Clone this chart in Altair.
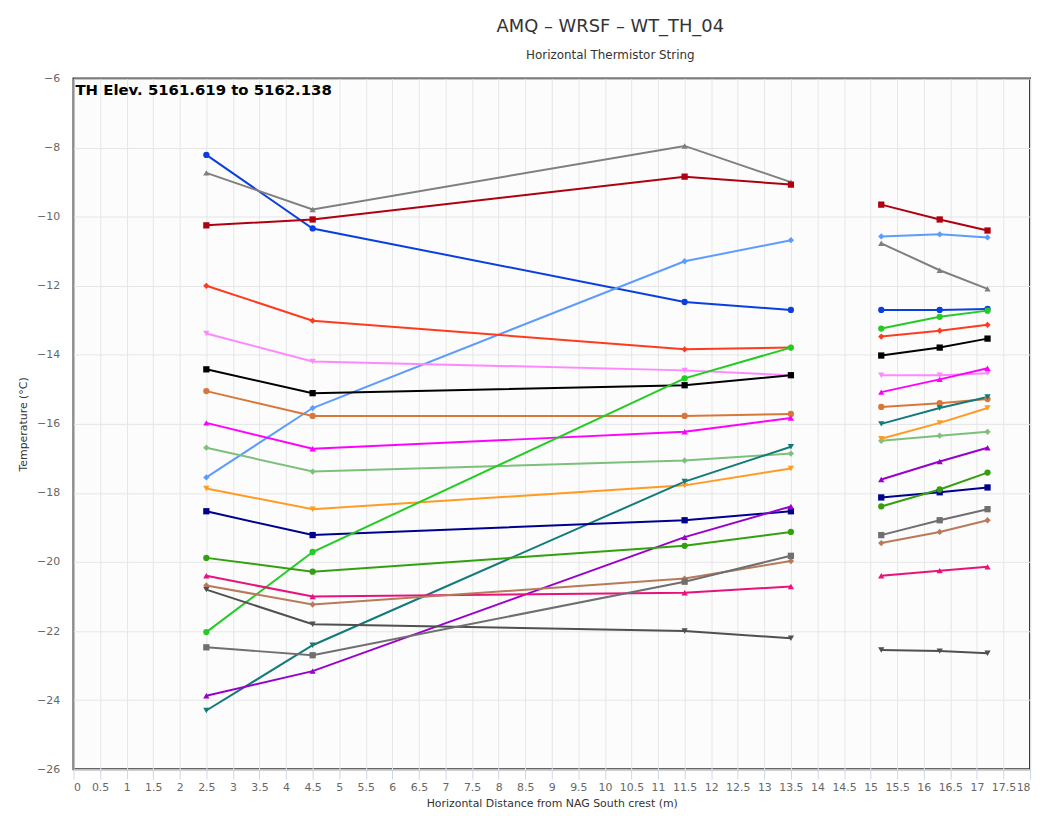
import altair as alt
import pandas as pd

# ---- data ----
x_positions = [2.5, 4.5, 11.5, 13.5, 15.2, 16.3, 17.2]
segments = ["A", "A", "A", "A", "B", "B", "B"]

series_names = [f"TH{i:02d}" for i in range(1, 21)]
series_colors = ["#0a3ee0", "#7f7f7f", "#b0000f", "#5c9cff", "#ff3b1f",
                 "#ff88ff", "#000000", "#d9773a", "#ff00ff", "#7cc07c",
                 "#ff9a22", "#127a7a", "#00008f", "#22cc22", "#9a00cc",
                 "#33a010", "#e8127a", "#b87a5a", "#505050", "#6f6f6f"]
series_shapes = ["circle", "triangle-up", "square", "diamond", "diamond",
                 "triangle-down", "square", "circle", "triangle-up", "diamond",
                 "triangle-down", "triangle-down", "square", "circle", "triangle-up",
                 "circle", "triangle-up", "diamond", "triangle-down", "square"]

th01 = [-8.21, -10.34, -12.47, -12.70, -12.70, -12.70, -12.67]
th02 = [-8.73, -9.79, -7.95, -9.00, -10.77, -11.55, -12.09]
th03 = [-10.25, -10.08, -8.84, -9.07, -9.65, -10.08, -10.40]
th04 = [-17.55, -15.54, -11.29, -10.68, -10.57, -10.51, -10.60]
th05 = [-12.00, -13.01, -13.84, -13.79, -13.47, -13.30, -13.13]
th06 = [-13.38, -14.19, -14.45, -14.59, -14.59, -14.59, -14.53]
th07 = [-14.42, -15.11, -14.88, -14.59, -14.02, -13.79, -13.53]
th08 = [-15.05, -15.77, -15.77, -15.71, -15.51, -15.40, -15.28]
th09 = [-15.97, -16.72, -16.23, -15.83, -15.08, -14.71, -14.39]
th10 = [-16.69, -17.38, -17.06, -16.86, -16.49, -16.34, -16.23]
th11 = [-17.87, -18.47, -17.78, -17.29, -16.43, -15.97, -15.54]
th12 = [-24.30, -22.41, -17.67, -16.66, -16.00, -15.54, -15.22]
th13 = [-18.53, -19.22, -18.79, -18.53, -18.13, -17.98, -17.84]
th14 = [-22.03, -19.71, -14.68, -13.79, -13.24, -12.90, -12.72]
th15 = [-23.87, -23.16, -19.28, -18.39, -17.61, -17.09, -16.69]
th16 = [-19.88, -20.28, -19.53, -19.13, -18.39, -17.90, -17.41]
th17 = [-20.40, -21.00, -20.89, -20.71, -20.40, -20.25, -20.14]
th18 = [-20.68, -21.23, -20.48, -19.97, -19.45, -19.13, -18.79]
th19 = [-20.80, -21.80, -22.00, -22.21, -22.55, -22.58, -22.64]
th20 = [-22.47, -22.70, -20.57, -19.82, -19.22, -18.79, -18.47]

all_values = [th01, th02, th03, th04, th05, th06, th07, th08, th09, th10,
              th11, th12, th13, th14, th15, th16, th17, th18, th19, th20]

x_ticks = [i * 0.5 for i in range(37)]
y_ticks = list(range(-26, -5, 2))

rows = []
for name, vals in zip(series_names, all_values):
    for xv, seg, yv in zip(x_positions, segments, vals):
        rows.append({"series": name, "x": xv, "seg": seg, "temp": yv})
df = pd.DataFrame(rows)

FONT = "DejaVu Sans"

x_enc = alt.X("x:Q", scale=alt.Scale(domain=[0, 18], nice=False, zero=False),
              axis=alt.Axis(values=x_ticks, format="~g",
                            title="Horizontal Distance from NAG South crest (m)",
                            labelColor="#666666", labelFontSize=11, labelFont=FONT,
                            labelOverlap=False, labelBound=False, labelFlush=True,
                            titleFontSize=11, titleFont=FONT, titleColor="#333333",
                            titleFontWeight="normal", titlePadding=6,
                            tickColor="#ccd6eb", tickSize=10, labelPadding=2,
                            domain=False, gridColor="#e6e6e6"))
y_enc = alt.Y("temp:Q", scale=alt.Scale(domain=[-26, -6], nice=False, zero=False),
              axis=alt.Axis(values=y_ticks, format="~g", title="Temperature (°C)",
                            labelColor="#666666", labelFontSize=11, labelFont=FONT,
                            labelOverlap=False,
                            titleFontSize=11, titleFont=FONT, titleColor="#333333",
                            titleFontWeight="normal", titlePadding=8,
                            ticks=False, domain=False, labelPadding=14,
                            gridColor="#e6e6e6"))
color_enc = alt.Color("series:N", scale=alt.Scale(domain=series_names, range=series_colors),
                      legend=None)
shape_enc = alt.Shape("series:N", scale=alt.Scale(domain=series_names, range=series_shapes),
                      legend=None)

base = alt.Chart(df)
lines = base.mark_line(strokeWidth=2).encode(
    x=x_enc, y=y_enc, color=color_enc, detail="seg:N", order="x:Q")
points = base.mark_point(filled=True, size=40, opacity=1).encode(
    x=x_enc, y=y_enc, color=color_enc, shape=shape_enc)

label = alt.Chart(pd.DataFrame({"t": ["TH Elev. 5161.619 to 5162.138"]})).mark_text(
    align="left", baseline="alphabetic", font=FONT, fontSize=15, fontWeight="bold",
    color="#000000").encode(x=alt.value(2), y=alt.value(17), text="t:N")

chart = alt.layer(lines, points, label).properties(
    width=964, height=696,
    title=alt.TitleParams("AMQ – WRSF – WT_TH_04", subtitle="Horizontal Thermistor String",
                          font=FONT, fontSize=18, fontWeight="normal", color="#333333",
                          subtitleFont=FONT, subtitleFontSize=12, subtitleColor="#333333",
                          subtitlePadding=14, offset=12, anchor="middle", dx=59),
    autosize=alt.AutoSizeParams(type="none"),
    padding={"left": 66, "top": 68, "right": 5, "bottom": 42},
).configure_view(stroke="#333333", strokeWidth=2, fill="#fbfcfb")

chart.save("out.html", embed_options={"renderer": "svg", "actions": False})
